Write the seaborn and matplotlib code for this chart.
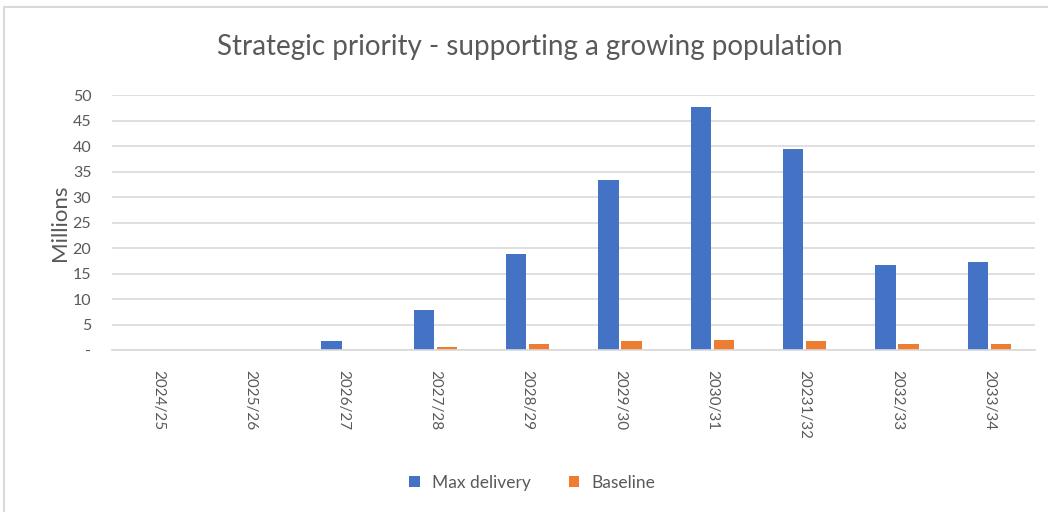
import matplotlib
matplotlib.use("Agg")
import matplotlib.pyplot as plt
import seaborn as sns
import pandas as pd
from matplotlib.lines import Line2D
from matplotlib.patches import Patch

years = ["2024/25", "2025/26", "2026/27", "2027/28", "2028/29", "2029/30",
         "2030/31", "20231/32", "2032/33", "2033/34"]
max_delivery = [0, 0, 1.8, 7.8, 18.8, 33.3, 47.6, 39.4, 16.7, 17.3]
baseline = [0, 0, 0, 0.6, 1.2, 1.8, 2.0, 1.8, 1.2, 1.2]
series = ["Max delivery", "Baseline"]
colors = ["#4472C4", "#ED7D31"]
yticks = [0, 5, 10, 15, 20, 25, 30, 35, 40, 45, 50]
ytick_labels = ["-", "5", "10", "15", "20", "25", "30", "35", "40", "45", "50"]

df = pd.DataFrame({
    "Year": years * 2,
    "Value": max_delivery + baseline,
    "Series": [series[0]] * len(years) + [series[1]] * len(years),
})

sns.set_theme(style="white")
plt.rcParams["font.family"] = ["Lato", "DejaVu Sans"]

fig = plt.figure(figsize=(10.48, 5.12), dpi=100)
ax = fig.add_axes([0.107, 0.316, 0.881, 0.498])

sns.barplot(data=df, x="Year", y="Value", hue="Series", order=years,
            hue_order=series, palette=colors, width=0.5, gap=0.12,
            saturation=1, ax=ax, legend=False, linewidth=0)

grey = "#595959"
ax.set_ylim(0, 50)
ax.set_xlim(-0.5, len(years) - 0.5)
ax.set_yticks(yticks)
ax.set_yticklabels(ytick_labels, color=grey, fontsize=11.5)
ax.set_xticks(range(len(years)))
ax.set_xticklabels(years, rotation=-90, color=grey, fontsize=11)
ax.tick_params(axis="y", length=0, pad=15)
ax.tick_params(axis="x", length=0, pad=14)
ax.yaxis.grid(True, color="#D9D9D9", linewidth=1.2)
ax.set_axisbelow(True)
for s in ["top", "right", "left"]:
    ax.spines[s].set_visible(False)
ax.spines["bottom"].set_color("#D9D9D9")
ax.spines["bottom"].set_linewidth(1.2)
ax.set_xlabel("")
ax.set_ylabel("Millions", color=grey, fontsize=16, labelpad=2)

fig.text(0.506, 0.908, "Strategic priority - supporting a growing population",
         ha="center", va="center", fontsize=20, color=grey)

handles = [Patch(facecolor=c, edgecolor="none") for c in colors]
fig.legend(handles, series, loc="center", bbox_to_anchor=(0.508, 0.057),
           ncol=2, frameon=False, fontsize=12.5, labelcolor=grey,
           handlelength=0.6, handleheight=0.6, columnspacing=2.2,
           handletextpad=0.7)

fig.add_artist(Line2D([4 / 1048, 1.0], [1 - 7 / 512, 1 - 7 / 512],
                      transform=fig.transFigure, color="#D9D9D9", linewidth=1.5))
fig.add_artist(Line2D([4 / 1048, 4 / 1048], [0, 1 - 7 / 512],
                      transform=fig.transFigure, color="#D9D9D9", linewidth=1.5))

fig.savefig("out.png", dpi=100, facecolor="white")
